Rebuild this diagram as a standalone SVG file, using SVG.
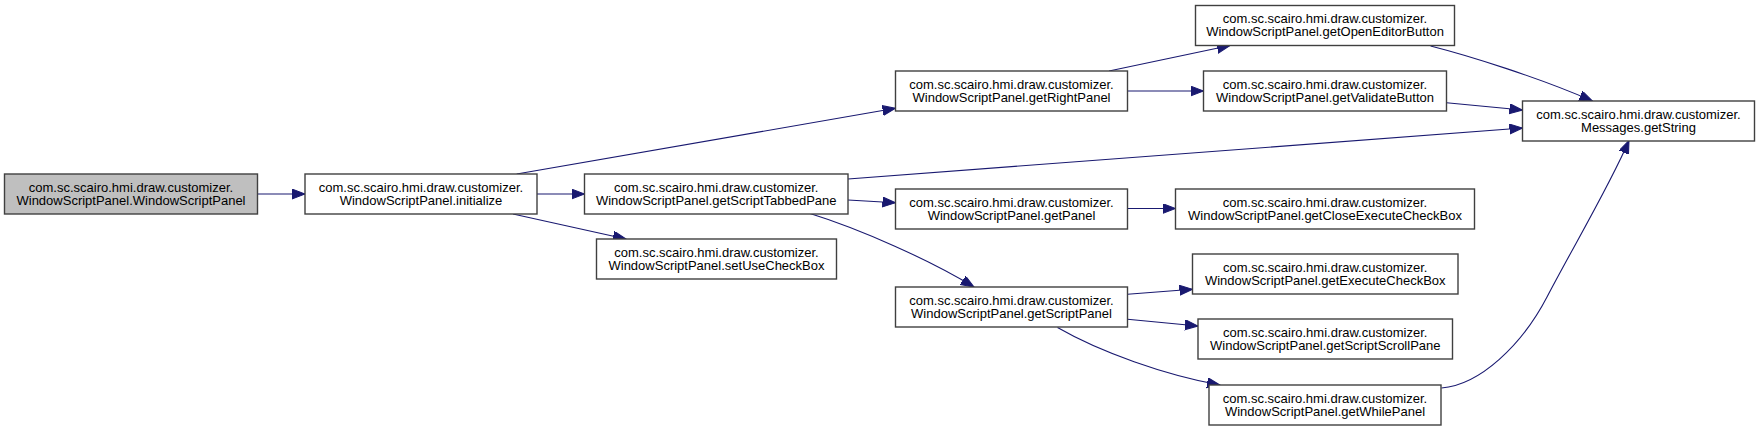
<svg xmlns="http://www.w3.org/2000/svg" width="1760" height="431" viewBox="0 0 1760 431">
<style>
.n rect{fill:#ffffff;stroke:#404040;stroke-width:1.4}
.n.root rect{fill:#bfbfbf}
.n text{font-family:"Liberation Sans",Arial,sans-serif;font-size:13px;fill:#000;text-anchor:middle}
.e path{fill:none;stroke:#191970;stroke-width:1.1;marker-end:url(#ah)}
</style>
<defs>
<marker id="ah" markerUnits="userSpaceOnUse" markerWidth="16" markerHeight="12" refX="13" refY="5" orient="auto">
<path d="M0,0 L13,5 L0,10 Z" fill="#191970" stroke="#191970" stroke-width="1"/>
</marker>
</defs>
<rect width="1760" height="431" fill="#ffffff"/>
<g id="edges" class="e">
<path d="M257.5,194 L305,194"/>
<path d="M516.7,174 L895.5,108.3"/>
<path d="M537,194 L584.5,194"/>
<path d="M513,214 L626,239"/>
<path d="M1109,71 L1230,45.5"/>
<path d="M1127.5,91 L1203.5,91"/>
<path d="M1430.6,46 C1470,56 1540,78 1592.4,101"/>
<path d="M1446.5,102.7 L1522.5,110"/>
<path d="M848,179 L1522.5,128"/>
<path d="M848,200 L895.5,202.7"/>
<path d="M1127.5,208.5 L1175.5,208.5"/>
<path d="M810,213.5 C860,229 930,260 974,287"/>
<path d="M1127.5,294.3 L1192.5,289.3"/>
<path d="M1127.5,319.3 L1198,326"/>
<path d="M1057.5,327.5 C1100,352 1165,375 1220,385"/>
<path d="M1441.5,388 C1480,385 1522,345 1547,297 S1610,185 1629,140.5"/>
</g>
<g id="nodeA" class="n root"><rect x="4.5" y="174" width="253" height="40"/><text x="131" y="191.5">com.sc.scairo.hmi.draw.customizer.</text><text x="131" y="204.5">WindowScriptPanel.WindowScriptPanel</text></g>
<g id="nodeB" class="n"><rect x="305" y="174" width="232" height="40"/><text x="421" y="191.5">com.sc.scairo.hmi.draw.customizer.</text><text x="421" y="204.5">WindowScriptPanel.initialize</text></g>
<g id="nodeC" class="n"><rect x="584.5" y="174" width="263.5" height="40"/><text x="716.25" y="191.5">com.sc.scairo.hmi.draw.customizer.</text><text x="716.25" y="204.5">WindowScriptPanel.getScriptTabbedPane</text></g>
<g id="nodeD" class="n"><rect x="596.5" y="239" width="240" height="40"/><text x="716.5" y="256.5">com.sc.scairo.hmi.draw.customizer.</text><text x="716.5" y="269.5">WindowScriptPanel.setUseCheckBox</text></g>
<g id="nodeH" class="n"><rect x="895.5" y="71" width="232" height="40"/><text x="1011.5" y="88.5">com.sc.scairo.hmi.draw.customizer.</text><text x="1011.5" y="101.5">WindowScriptPanel.getRightPanel</text></g>
<g id="nodeE" class="n"><rect x="895.5" y="189" width="232" height="40"/><text x="1011.5" y="206.5">com.sc.scairo.hmi.draw.customizer.</text><text x="1011.5" y="219.5">WindowScriptPanel.getPanel</text></g>
<g id="nodeF" class="n"><rect x="895.5" y="287" width="232" height="40"/><text x="1011.5" y="304.5">com.sc.scairo.hmi.draw.customizer.</text><text x="1011.5" y="317.5">WindowScriptPanel.getScriptPanel</text></g>
<g id="nodeG" class="n"><rect x="1195.5" y="5.5" width="259" height="40"/><text x="1325" y="23">com.sc.scairo.hmi.draw.customizer.</text><text x="1325" y="36">WindowScriptPanel.getOpenEditorButton</text></g>
<g id="nodeI" class="n"><rect x="1203.5" y="71" width="243" height="40"/><text x="1325" y="88.5">com.sc.scairo.hmi.draw.customizer.</text><text x="1325" y="101.5">WindowScriptPanel.getValidateButton</text></g>
<g id="nodeK" class="n"><rect x="1175.5" y="189" width="299" height="40"/><text x="1325" y="206.5">com.sc.scairo.hmi.draw.customizer.</text><text x="1325" y="219.5">WindowScriptPanel.getCloseExecuteCheckBox</text></g>
<g id="nodeL" class="n"><rect x="1192.5" y="254" width="265.5" height="40"/><text x="1325.25" y="271.5">com.sc.scairo.hmi.draw.customizer.</text><text x="1325.25" y="284.5">WindowScriptPanel.getExecuteCheckBox</text></g>
<g id="nodeM" class="n"><rect x="1198" y="319" width="254.5" height="40"/><text x="1325.25" y="336.5">com.sc.scairo.hmi.draw.customizer.</text><text x="1325.25" y="349.5">WindowScriptPanel.getScriptScrollPane</text></g>
<g id="nodeN" class="n"><rect x="1209" y="385" width="232" height="40"/><text x="1325" y="402.5">com.sc.scairo.hmi.draw.customizer.</text><text x="1325" y="415.5">WindowScriptPanel.getWhilePanel</text></g>
<g id="nodeJ" class="n"><rect x="1522.5" y="101" width="232" height="40"/><text x="1638.5" y="118.5">com.sc.scairo.hmi.draw.customizer.</text><text x="1638.5" y="131.5">Messages.getString</text></g>
</svg>
